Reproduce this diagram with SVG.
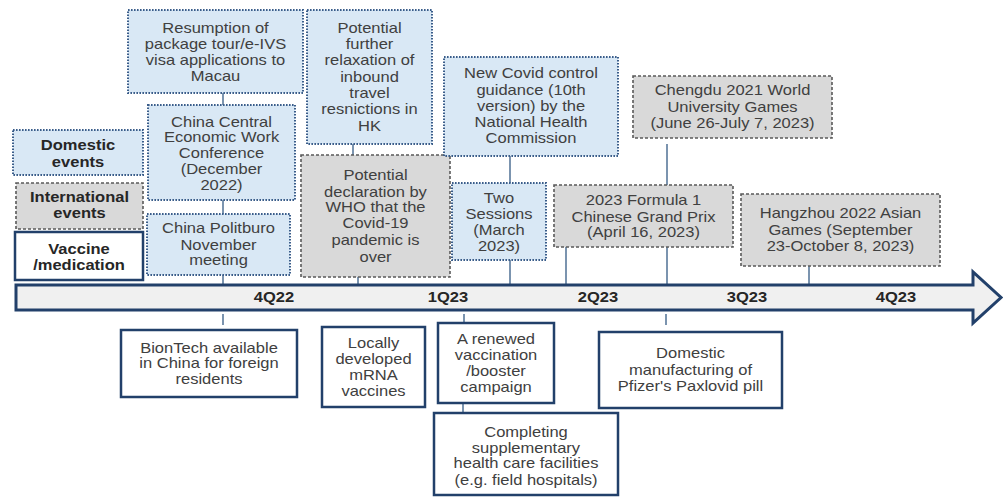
<svg xmlns="http://www.w3.org/2000/svg" width="1003" height="497" viewBox="0 0 1003 497">
<style>
.dom{fill:#d9e8f5;stroke:#3a5d8a;stroke-width:2;stroke-dasharray:1.6 1.4}
.int{fill:#d9d9d9;stroke:#595959;stroke-width:1.6;stroke-dasharray:3 2}
.vac{fill:#ffffff;stroke:#22406a;stroke-width:2.5}
.t{font-family:"Liberation Sans",Arial,sans-serif;font-size:14px;fill:#404040;text-anchor:middle}
.b{font-family:"Liberation Sans",Arial,sans-serif;font-size:14px;font-weight:bold;fill:#262626;text-anchor:middle}
.c{stroke:#4f7094;stroke-width:1.5;fill:none}
</style>
<rect width="1003" height="497" fill="#ffffff"/>
<g id="connectors">
<line class="c" x1="223" y1="93" x2="223" y2="105"/>
<line class="c" x1="223" y1="200" x2="223" y2="214"/>
<line class="c" x1="223" y1="275" x2="223" y2="286"/>
<line class="c" x1="353" y1="144" x2="353" y2="155"/>
<line class="c" x1="358" y1="277" x2="358" y2="286"/>
<line class="c" x1="510" y1="156" x2="510" y2="183"/>
<line class="c" x1="510" y1="260" x2="510" y2="286"/>
<line class="c" x1="566" y1="247" x2="566" y2="286"/>
<line class="c" x1="667" y1="144" x2="667" y2="286"/>
<line class="c" x1="809" y1="266" x2="809" y2="286"/>
<line class="c" x1="223" y1="314" x2="223" y2="325"/>
<line class="c" x1="464" y1="314" x2="464" y2="323"/>
<line class="c" x1="463" y1="403" x2="463" y2="413"/>
<line class="c" x1="666" y1="314" x2="666" y2="325"/>
</g>
<g id="timeline">
<path d="M16 285 H973 V272 L1001 297.5 L973 323 V310 H16 Z" fill="#f0f0f0" stroke="#22406a" stroke-width="3" stroke-linejoin="miter"/>
<text class="b" transform="translate(274 0) scale(1.18 1)"><tspan x="0" y="302">4Q22</tspan></text>
<text class="b" transform="translate(448 0) scale(1.18 1)"><tspan x="0" y="302">1Q23</tspan></text>
<text class="b" transform="translate(598 0) scale(1.18 1)"><tspan x="0" y="302">2Q23</tspan></text>
<text class="b" transform="translate(747 0) scale(1.18 1)"><tspan x="0" y="302">3Q23</tspan></text>
<text class="b" transform="translate(896 0) scale(1.18 1)"><tspan x="0" y="302">4Q23</tspan></text>
</g>
<g id="legend-domestic">
<rect class="dom" x="13" y="130" width="130" height="45"/>
<text class="b" transform="translate(78 0) scale(1.18 1)"><tspan x="0" y="150">Domestic</tspan><tspan x="0" y="167">events</tspan></text>
</g>
<g id="legend-international">
<rect class="int" x="16" y="183" width="127" height="46"/>
<text class="b" transform="translate(79.5 0) scale(1.18 1)"><tspan x="0" y="202">International</tspan><tspan x="0" y="218">events</tspan></text>
</g>
<g id="legend-vaccine">
<rect class="vac" x="15" y="232" width="128" height="48"/>
<text class="b" transform="translate(79 0) scale(1.18 1)"><tspan x="0" y="254">Vaccine</tspan><tspan x="0" y="270">/medication</tspan></text>
</g>
<g id="resumption">
<rect class="dom" x="128" y="10" width="175" height="83"/>
<text class="t" transform="translate(215.5 0) scale(1.18 1)"><tspan x="0" y="33">Resumption of</tspan><tspan x="0" y="49">package tour/e-IVS</tspan><tspan x="0" y="65">visa applications to</tspan><tspan x="0" y="81">Macau</tspan></text>
</g>
<g id="china-central">
<rect class="dom" x="148" y="105" width="147" height="95"/>
<text class="t" transform="translate(221.5 0) scale(1.18 1)"><tspan x="0" y="127">China Central</tspan><tspan x="0" y="142.5">Economic Work</tspan><tspan x="0" y="158">Conference</tspan><tspan x="0" y="174">(December</tspan><tspan x="0" y="190">2022)</tspan></text>
</g>
<g id="politburo">
<rect class="dom" x="147" y="214" width="143" height="61"/>
<text class="t" transform="translate(218.5 0) scale(1.18 1)"><tspan x="0" y="233">China Politburo</tspan><tspan x="0" y="250">November</tspan><tspan x="0" y="265">meeting</tspan></text>
</g>
<g id="hk-relaxation">
<rect class="dom" x="307" y="10" width="125" height="134"/>
<text class="t" transform="translate(369.5 0) scale(1.18 1)"><tspan x="0" y="33">Potential</tspan><tspan x="0" y="49">further</tspan><tspan x="0" y="65">relaxation of</tspan><tspan x="0" y="82">inbound</tspan><tspan x="0" y="98">travel</tspan><tspan x="0" y="114">resnictions in</tspan><tspan x="0" y="131">HK</tspan></text>
</g>
<g id="who-declaration">
<rect class="int" x="301" y="155" width="149" height="122"/>
<text class="t" transform="translate(375.5 0) scale(1.18 1)"><tspan x="0" y="180">Potential</tspan><tspan x="0" y="197">declaration by</tspan><tspan x="0" y="212">WHO that the</tspan><tspan x="0" y="228">Covid-19</tspan><tspan x="0" y="245">pandemic is</tspan><tspan x="0" y="262">over</tspan></text>
</g>
<g id="covid-guidance">
<rect class="dom" x="444" y="57" width="174" height="99"/>
<text class="t" transform="translate(531 0) scale(1.18 1)"><tspan x="0" y="78">New Covid control</tspan><tspan x="0" y="95">guidance (10th</tspan><tspan x="0" y="111">version) by the</tspan><tspan x="0" y="127">National Health</tspan><tspan x="0" y="143">Commission</tspan></text>
</g>
<g id="two-sessions">
<rect class="dom" x="452" y="183" width="94" height="77"/>
<text class="t" transform="translate(499 0) scale(1.18 1)"><tspan x="0" y="203">Two</tspan><tspan x="0" y="219">Sessions</tspan><tspan x="0" y="235">(March</tspan><tspan x="0" y="251">2023)</tspan></text>
</g>
<g id="formula1">
<rect class="int" x="554" y="185" width="179" height="62"/>
<text class="t" transform="translate(643.5 0) scale(1.18 1)"><tspan x="0" y="205">2023 Formula 1</tspan><tspan x="0" y="222">Chinese Grand Prix</tspan><tspan x="0" y="237">(April 16, 2023)</tspan></text>
</g>
<g id="chengdu">
<rect class="int" x="633" y="76" width="199" height="62"/>
<text class="t" transform="translate(732.5 0) scale(1.18 1)"><tspan x="0" y="95">Chengdu 2021 World</tspan><tspan x="0" y="112">University Games</tspan><tspan x="0" y="128">(June 26-July 7, 2023)</tspan></text>
</g>
<g id="hangzhou">
<rect class="int" x="741" y="194" width="199" height="72"/>
<text class="t" transform="translate(840.5 0) scale(1.18 1)"><tspan x="0" y="218">Hangzhou 2022 Asian</tspan><tspan x="0" y="235">Games (September</tspan><tspan x="0" y="251">23-October 8, 2023)</tspan></text>
</g>
<g id="biontech">
<rect class="vac" x="121" y="330" width="176" height="67"/>
<text class="t" transform="translate(209 0) scale(1.18 1)"><tspan x="0" y="353">BionTech available</tspan><tspan x="0" y="368">in China for foreign</tspan><tspan x="0" y="384">residents</tspan></text>
</g>
<g id="mrna">
<rect class="vac" x="322" y="327" width="103" height="80"/>
<text class="t" transform="translate(373.5 0) scale(1.18 1)"><tspan x="0" y="348">Locally</tspan><tspan x="0" y="364">developed</tspan><tspan x="0" y="380">mRNA</tspan><tspan x="0" y="396">vaccines</tspan></text>
</g>
<g id="booster">
<rect class="vac" x="438" y="323" width="116" height="80"/>
<text class="t" transform="translate(496 0) scale(1.18 1)"><tspan x="0" y="344">A renewed</tspan><tspan x="0" y="360">vaccination</tspan><tspan x="0" y="376">/booster</tspan><tspan x="0" y="392">campaign</tspan></text>
</g>
<g id="facilities">
<rect class="vac" x="434" y="413" width="184" height="82"/>
<text class="t" transform="translate(526 0) scale(1.18 1)"><tspan x="0" y="437">Completing</tspan><tspan x="0" y="453">supplementary</tspan><tspan x="0" y="468">health care facilities</tspan><tspan x="0" y="485">(e.g. field hospitals)</tspan></text>
</g>
<g id="paxlovid">
<rect class="vac" x="599" y="332" width="183" height="76"/>
<text class="t" transform="translate(690.5 0) scale(1.18 1)"><tspan x="0" y="358">Domestic</tspan><tspan x="0" y="375">manufacturing of</tspan><tspan x="0" y="391">Pfizer's Paxlovid pill</tspan></text>
</g>
</svg>
